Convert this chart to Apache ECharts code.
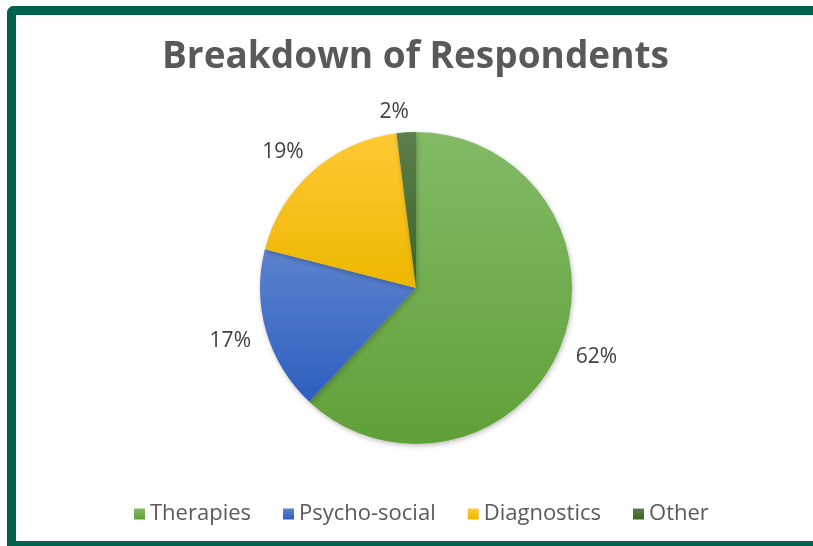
<!DOCTYPE html>
<html>
<head>
<meta charset="utf-8">
<script src="https://cdn.jsdelivr.net/npm/echarts@6/dist/echarts.min.js"></script>
<style>
  html, body { margin: 0; padding: 0; background: #fff; }
  #frame {
    position: absolute; left: 7px; top: 6px; right: 0; bottom: 0;
    border-top: 9px solid #00614f; border-left: 9px solid #00614f;
    border-bottom: 5px solid #00614f; border-top-left-radius: 7px;
  }
  #chart { position: absolute; left: 0; top: 0; width: 813px; height: 546px; }
</style>
</head>
<body>
<div id="frame"></div>
<div id="chart"></div>
<script>
// chart data
const categories = ['Therapies', 'Psycho-social', 'Diagnostics', 'Other']
const shares = [62, 17, 19, 2]
const topColors = ['#82ba66', '#5b83cd', '#ffc935', '#5c7f4e']
const bottomColors = ['#60a038', '#2e5ebf', '#edb700', '#3b6424']

const pieCenter = [416, 288]

const myChart = echarts.init(document.getElementById('chart'))

const option = {
  backgroundColor: 'transparent',
  title: {
    text: 'Breakdown of Respondents',
    left: 157,
    top: 34,
    textStyle: {
      fontFamily: 'Open Sans',
      fontWeight: 'bold',
      fontSize: 37,
      color: '#595959'
    }
  },
  legend: {
    bottom: 16,
    left: 129,
    icon: 'rect',
    itemWidth: 11,
    itemHeight: 11,
    itemGap: 32,
    data: categories,
    textStyle: { fontFamily: 'Open Sans', fontSize: 22, color: '#595959' }
  },
  series: [
    {
      type: 'pie',
      center: pieCenter,
      radius: 156,
      startAngle: 90,
      clockwise: true,
      avoidLabelOverlap: false,
      data: categories.map((name, i) => ({
        name: name,
        value: shares[i],
        itemStyle: {
          color: new echarts.graphic.LinearGradient(0, 0, 0, 1, [
            { offset: 0, color: topColors[i] },
            { offset: 1, color: bottomColors[i] }
          ])
        }
      })),
      itemStyle: {
        shadowBlur: 5,
        shadowOffsetX: 1,
        shadowOffsetY: 2,
        shadowColor: 'rgba(0,0,0,0.25)'
      },
      label: {
        position: 'outside',
        formatter: '{c}%',
        fontFamily: 'Open Sans',
        fontSize: 21,
        color: '#404040'
      },
      labelLine: { show: false, length: 20, length2: 0 },
      // pull labels a little closer to the pie, as Excel does
      labelLayout: function (params) {
        const r = params.labelRect
        const midY = r.y + r.height / 2
        return {
          dx: params.align === 'left' ? -9 : 9,
          dy: midY > pieCenter[1] ? 4 : (midY > 130 ? -4 : 0)
        }
      },
      emphasis: { disabled: true }
    }
  ]
}

myChart.setOption(option)
</script>
</body>
</html>
